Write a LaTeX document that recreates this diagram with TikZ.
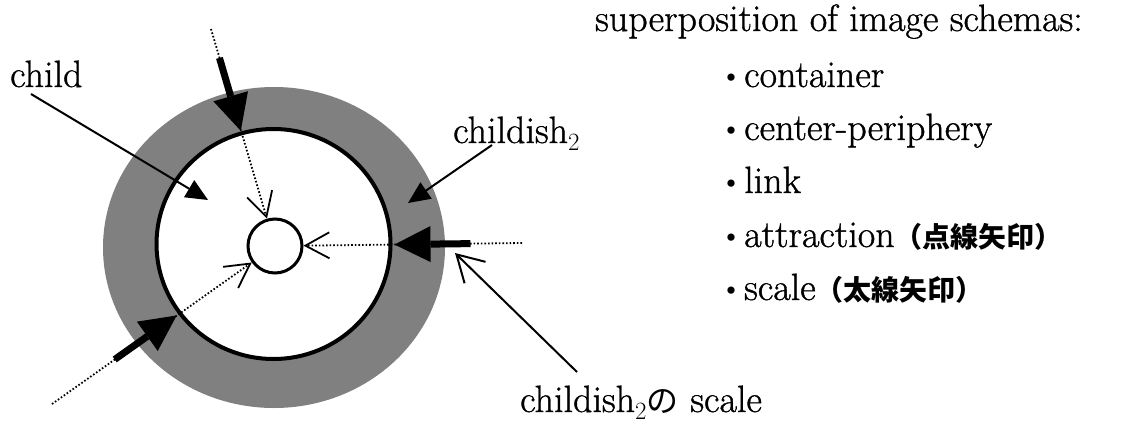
\documentclass[tikz,border=0pt]{standalone}
\usepackage{fontspec}
\newfontfamily\cjk{Noto Sans CJK JP}
\newfontfamily\mainser{Latin Modern Roman}[FakeBold=1.0]
\usetikzlibrary{arrows.meta,calc}
\tikzset{
  ringfill/.style={fill=black!50},
  att/.style={line width=1.8pt, dash pattern=on 1.6pt off 2pt,
    -{Straight Barb[length=24pt,width=26pt,line width=1.8pt]}},
  scl/.style={line width=7pt, -{Triangle[length=36pt,width=36pt,line width=0pt]}},
  lbl/.style={line width=2pt, -{Triangle[length=22pt,width=20pt,line width=0pt]}},
  lblopen/.style={line width=2pt, -{Straight Barb[length=26pt,width=30pt,line width=2pt]}},
  txt/.style={anchor=base west, inner sep=0pt},
}
\newcommand{\jb}{{\cjk\bfseries\fontsize{26}{26}\selectfont ・}}
\newcommand{\jp}[1]{{\cjk\bfseries\fontsize{28}{28}\selectfont #1}}
\begin{document}
\begin{tikzpicture}[x=1pt,y=-1pt,font=\mainser\fontsize{38}{40}\selectfont]
\useasboundingbox (0,0) rectangle (1139,423);
\coordinate (c) at (274.5,246);
% ring
\fill[ringfill, even odd rule] (274,247.5) ellipse [x radius=171, y radius=160.5]
  (273.5,244) ellipse [x radius=117, y radius=115];
\draw[line width=4pt] (273.5,244) ellipse [x radius=117, y radius=115];
% small circle
\node[circle, draw, line width=3pt, minimum size=54pt, inner sep=0pt, fill=white] (small) at (275,246) {};
% radial arrows
\coordinate (tS) at (211,29);
\coordinate (rS) at (522,243);
\coordinate (bS) at (52,404);
\foreach \s in {tS,rS,bS}{
  \draw[att] (\s) -- (small);
  \draw[scl] ($(c)!196pt!(\s)$) -- ($(c)!120pt!(\s)$);
}
% labels
\node[txt] (child) at (10,87) {child};
\coordinate (childtip) at (208,200);
\draw[lbl] ([xshift=21pt,yshift=-7pt]child.base west) -- (childtip);
\node[txt] (cd) at (453,143) {childish$_2$};
\coordinate (cdtip) at (408,203);
\draw[lbl] ([xshift=39pt,yshift=-2pt]cd.base west) -- (cdtip);
\node[txt] (cs) at (520,412) {childish$_2${\cjk\fontsize{32}{32}\selectfont の} scale};
\coordinate (cstip) at (455,253);
\draw[lblopen] ([xshift=57pt,yshift=40pt]cs.base west) -- (cstip);
% list
\node[txt] (title) at (595,31) {superposition of image schemas:};
\node[txt] (i1) at (718,87) {\jb container};
\node[txt] (i2) at (718,140) {\jb center-periphery};
\node[txt] (i3) at (718,193) {\jb link};
\node[txt] (i4) at (718,247) {\jb attraction\jp{（点線矢印）}};
\node[txt] (i5) at (718,300) {\jb scale\jp{（太線矢印）}};
\end{tikzpicture}
\end{document}
